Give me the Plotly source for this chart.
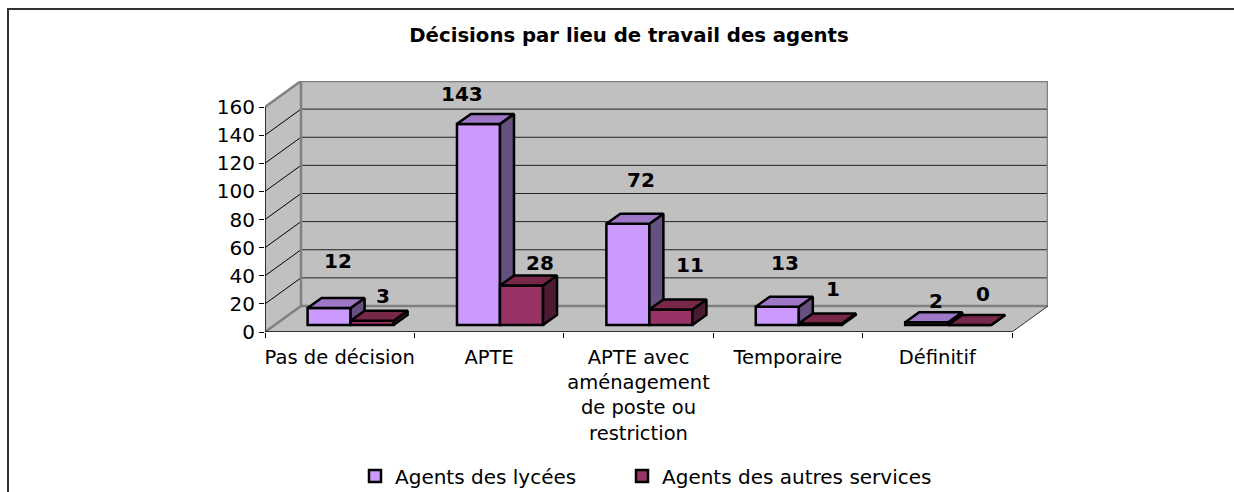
import plotly.graph_objects as go

# --- data ---
categories = ["Pas de décision", "APTE", "APTE avec<br>aménagement<br>de poste ou<br>restriction", "Temporaire", "Définitif"]
series_names = ["Agents des lycées", "Agents des autres services"]
lycees = [12, 143, 72, 13, 2]
autres = [3, 28, 11, 1, 0]
y_ticks = [0, 20, 40, 60, 80, 100, 120, 140, 160]
title_text = "Décisions par lieu de travail des agents"

# --- styling / geometry ---
FONT = "DejaVu Sans"
FS = 20
L, R, T, B = 265, 1048, 81, 332            # plot area in page pixels
CAT_PX = 149.4
UNIT_PX = 1.406
DEPTH_X = 36 / CAT_PX                      # oblique depth of the box, in axis units
DEPTH_Y = 26 / UNIT_PX
XMAX = len(categories) + DEPTH_X
YMAX = y_ticks[-1] + DEPTH_Y
BAR_W = 0.288
BAR_START = 0.285
BAR_BASE = 5.0
BAR_DX = 14 / CAT_PX
BAR_DY = 10 / UNIT_PX
LINE_W = 2.5
LEGEND_W = [222, None]
faces = [
    dict(front="#CC99FF", top="#9E77C6", side="#66507F"),
    dict(front="#993366", top="#772849", side="#4D1A33"),
]
# label nudges (px) relative to the top of each bar's front face
label_shift = [
    [(9, 47), (-16, 30), (13, 44), (8, 44), (9, 21)],
    [(11, 25), (18, 23), (19, 45), (13, 35), (13, 31)],
]
WALL = "#C0C0C0"
EDGE = "#808080"

fig = go.Figure()
all_series = [lycees, autres]
axes = [("x", "y"), ("x2", "y2")]

for s, values in enumerate(all_series):
    xa, ya = axes[s]
    centers = [i + BAR_START + BAR_W * (s + 0.5) for i in range(len(values))]
    fig.add_trace(go.Bar(
        x=centers, y=values, base=[BAR_BASE] * len(values), width=[BAR_W] * len(values),
        name=series_names[s], xaxis=xa, yaxis=ya, hoverinfo="skip", legendwidth=LEGEND_W[s],
        marker=dict(color=faces[s]["front"], line=dict(color="black", width=LINE_W)),
    ))
    for c, v in zip(centers, values):
        x0, x1 = c - BAR_W / 2, c + BAR_W / 2
        yb, yt = BAR_BASE, BAR_BASE + v
        side_x = [x1, x1 + BAR_DX, x1 + BAR_DX, x1, x1]
        side_y = [yb, yb + BAR_DY, yt + BAR_DY, yt, yb]
        top_x = [x0, x1, x1 + BAR_DX, x0 + BAR_DX, x0]
        top_y = [yt, yt, yt + BAR_DY, yt + BAR_DY, yt]
        for px, py, col in ((side_x, side_y, faces[s]["side"]), (top_x, top_y, faces[s]["top"])):
            fig.add_trace(go.Scatter(
                x=px, y=py, mode="lines", fill="toself", fillcolor=col,
                line=dict(color="black", width=LINE_W), showlegend=False,
                hoverinfo="skip", xaxis=xa, yaxis=ya,
            ))

# box: walls, floor, gridlines
n = len(categories)
top = y_ticks[-1]
def poly(pts, fill, line=None, width=0):
    path = "M " + " L ".join(f"{a},{b}" for a, b in pts) + " Z"
    fig.add_shape(type="path", path=path, xref="x", yref="y", layer="below",
                  fillcolor=fill, line=dict(color=line or fill, width=width))
def seg(x0, y0, x1, y1, col, width=1, layer="below"):
    fig.add_shape(type="line", x0=x0, y0=y0, x1=x1, y1=y1, xref="x", yref="y", layer=layer,
                  line=dict(color=col, width=width))

poly([(DEPTH_X, DEPTH_Y), (XMAX, DEPTH_Y), (XMAX, YMAX), (DEPTH_X, YMAX)], WALL)
poly([(0, 0), (DEPTH_X, DEPTH_Y), (DEPTH_X, YMAX), (0, top)], WALL)
poly([(0, 0), (n, 0), (XMAX, DEPTH_Y), (DEPTH_X, DEPTH_Y)], WALL)
for t in y_ticks[1:-1]:
    seg(DEPTH_X, t + DEPTH_Y, XMAX, t + DEPTH_Y, "#222222", 1)
    seg(0, t, DEPTH_X, t + DEPTH_Y, "#000000", 1)
seg(0, top, DEPTH_X, YMAX, EDGE, 2.5)
seg(DEPTH_X, YMAX, XMAX, YMAX, EDGE, 2.5)
seg(XMAX, YMAX, XMAX, DEPTH_Y, EDGE, 2.5)
seg(DEPTH_X, YMAX, DEPTH_X, DEPTH_Y, EDGE, 2.5)
seg(DEPTH_X, DEPTH_Y, XMAX, DEPTH_Y, EDGE, 2.5)
seg(0, 0, DEPTH_X, DEPTH_Y, EDGE, 2.5)
seg(n, 0, XMAX, DEPTH_Y, "#333333", 1)
seg(0, 0, n, 0, "#000000", 1.5)
seg(0, 0, 0, top, "#000000", 1.5)

# data labels
for s, values in enumerate(all_series):
    for i, v in enumerate(values):
        dx, dy = label_shift[s][i]
        fig.add_annotation(
            x=i + BAR_START + BAR_W * (s + 0.5), y=BAR_BASE + v, xref="x", yref="y",
            text=f"<b>{v}</b>", showarrow=False, xshift=dx, yshift=dy,
            xanchor="center", yanchor="middle",
            font=dict(family=FONT, size=FS, color="black"),
        )

# chart frame (open at the right and bottom edges of the page)
W, H = 1234, 492
def px_x(p): return (p - L) / (R - L)
def px_y(p): return (B - p) / (B - T)
fig.add_shape(type="rect", xref="paper", yref="paper", layer="below",
              x0=px_x(8), x1=px_x(1260), y0=px_y(9), y1=px_y(520),
              line=dict(color="#333333", width=2), fillcolor="rgba(0,0,0,0)")

axis_common = dict(range=[0, XMAX], showgrid=False, zeroline=False)
fig.update_layout(
    width=W, height=H, margin=dict(l=L, r=W - R, t=T, b=H - B, pad=0, autoexpand=False),
    paper_bgcolor="white", plot_bgcolor="rgba(0,0,0,0)",
    barmode="overlay", showlegend=True,
    font=dict(family=FONT, size=FS, color="black"),
    title=dict(text=f"<b>{title_text}</b>", x=629 / W, y=1 - 35 / H, xref="container",
               yref="container", xanchor="center", yanchor="middle",
               font=dict(family=FONT, size=19.7, color="black")),
    xaxis=dict(**axis_common, tickmode="array", tickvals=[i + 0.5 for i in range(n)],
               ticktext=categories, ticks="", showline=False, tickangle=0,
               tickfont=dict(family=FONT, size=19.5), ticklabelstandoff=11,
               minor=dict(tickmode="linear", tick0=0, dtick=1, ticks="outside", ticklen=5,
                          tickcolor="black", tickwidth=1, showgrid=False)),
    yaxis=dict(range=[0, YMAX], showgrid=False, zeroline=False, showline=False,
               tickmode="array", tickvals=y_ticks, ticks="outside", ticklen=5, tickcolor="black",
               tickfont=dict(family=FONT, size=FS)),
    xaxis2=dict(**axis_common, overlaying="x", visible=False),
    yaxis2=dict(range=[0, YMAX], overlaying="y", visible=False, showgrid=False, zeroline=False),
    legend=dict(orientation="h", x=px_x(355), y=px_y(476), xref="paper", yref="paper",
                xanchor="left", yanchor="middle",
                bgcolor="rgba(0,0,0,0)", font=dict(family=FONT, size=FS), itemclick=False,
                itemdoubleclick=False),
)
fig.write_html("out.html", config={"displayModeBar": False},
               post_script="document.body.style.margin='0';document.body.style.overflow='hidden';")
